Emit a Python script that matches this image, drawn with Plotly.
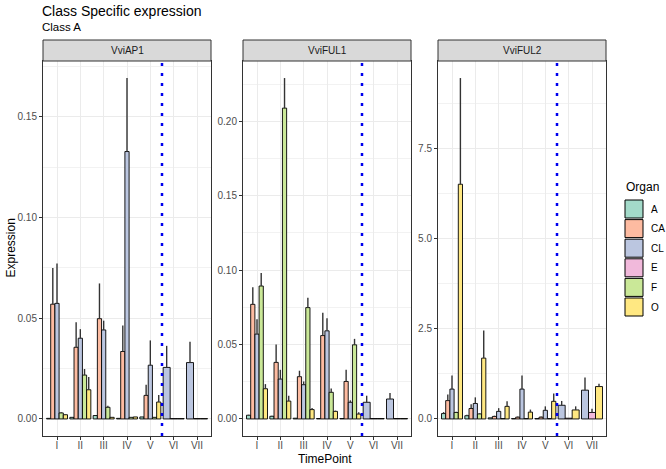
import plotly.graph_objects as go
from plotly.subplots import make_subplots

W, H = 666, 469

timepoints = ["I", "II", "III", "IV", "V", "VI", "VII"]
organs = ["A", "CA", "CL", "E", "F", "O"]
organ_colors = ["#A3DAC9", "#FDBBA1", "#BBC6E0", "#F1B9DB", "#CAE898", "#FFE882"]
genes = ["VviAP1", "VviFUL1", "VviFUL2"]

N = None
# rows follow organs order: A, CA, CL, E, F, O ; columns = timepoints
ap1_mean = [
    [0.0003, 0.0008, 0.0017, 0.0003, 0.0010, N, N],
    [0.0570, 0.0356, 0.0498, 0.0335, 0.0117, N, N],
    [0.0574, 0.0401, 0.0442, 0.1328, 0.0267, 0.0256, 0.0280],
    [N, N, N, N, N, 0.0002, 0.0002],
    [0.0030, 0.0218, 0.0058, 0.0008, 0.0008, N, N],
    [0.0021, 0.0145, 0.0008, 0.0010, 0.0084, 0.0002, 0.0002],
]
ap1_err = [
    [0, 0, 0, 0, 0, N, N],
    [0.0180, 0.0124, 0.0175, 0.0129, 0.0053, N, N],
    [0.0198, 0.0045, 0.0046, 0.0365, 0.0123, 0.0107, 0.0104],
    [N, N, N, N, N, 0, 0],
    [0.0003, 0.0030, 0.0008, 0, 0, N, N],
    [0.0002, 0.0063, 0, 0, 0.0035, 0, 0],
]

ful1_mean = [
    [0.0025, 0.0018, 0.0005, 0.0003, 0.0003, N, N],
    [0.0770, 0.0380, 0.0284, 0.0560, 0.0252, N, N],
    [0.0570, 0.0268, 0.0230, 0.0592, 0.0112, 0.0112, 0.0134],
    [N, N, N, N, N, 0.0003, 0.0003],
    [0.0893, 0.2088, 0.0748, 0.0179, 0.0498, N, N],
    [0.0203, 0.0120, 0.0063, 0.0051, 0.0033, 0.0003, 0.0003],
]
ful1_err = [
    [0.0003, 0.0003, 0, 0, 0, N, N],
    [0.0114, 0.0120, 0.0040, 0.0154, 0.0078, N, N],
    [0.0100, 0.0062, 0.0022, 0.0084, 0.0013, 0.0044, 0.0040],
    [N, N, N, N, N, 0, 0],
    [0.0087, 0.0202, 0.0067, 0.0026, 0.0040, N, N],
    [0.0031, 0.0036, 0.0011, 0.0005, 0.0012, 0, 0],
]

ful2_mean = [
    [0.15, 0.09, 0.03, 0.01, 0.01, N, N],
    [0.51, 0.29, 0.07, 0.05, 0.05, N, N],
    [0.83, 0.43, 0.21, 0.83, 0.24, 0.38, 0.80],
    [N, N, N, N, N, 0.02, 0.18],
    [0.18, 0.14, 0.01, 0.01, 0.01, N, N],
    [6.52, 1.69, 0.35, 0.19, 0.49, 0.25, 0.90],
]
ful2_err = [
    [0.04, 0.03, 0, 0, 0, N, N],
    [0.17, 0.12, 0.02, 0.02, 0.02, N, N],
    [0.38, 0.17, 0.09, 0.38, 0.11, 0.12, 0.35],
    [N, N, N, N, N, 0, 0.10],
    [0.02, 0.02, 0, 0, 0, N, N],
    [2.95, 0.77, 0.14, 0.07, 0.22, 0.10, 0.08],
]

tables = [(ap1_mean, ap1_err), (ful1_mean, ful1_err), (ful2_mean, ful2_err)]
y_dtick = [0.05, 0.05, 2.5]
y_fmt = [".2f", ".2f", ".1f"]

# panel geometry (pixels)
px_left = [43, 243, 438]
px_w = 168
px_top, px_bot, strip_h = 61, 436, 21


def px(x):
    return x / W


def py(y):
    return 1 - y / H


fig = make_subplots(rows=1, cols=3)

for g, (mean, err) in enumerate(tables):
    col = g + 1
    # dodge like ggplot: organs present at each timepoint share 0.9 width
    xs = [[None] * 7 for _ in organs]
    ws = [[None] * 7 for _ in organs]
    for t in range(7):
        present = [o for o in range(len(organs)) if mean[o][t] is not None]
        w = 0.9 / len(present)
        for k, o in enumerate(present):
            xs[o][t] = t + 1 - 0.45 + w * (k + 0.5)
            ws[o][t] = w
    top = 0
    for o, name in enumerate(organs):
        idx = [t for t in range(7) if mean[o][t] is not None]
        top = max([top] + [mean[o][t] + err[o][t] for t in idx])
        fig.add_trace(
            go.Bar(
                x=[xs[o][t] for t in idx],
                y=[mean[o][t] for t in idx],
                width=[ws[o][t] for t in idx],
                name=name,
                legendgroup=name,
                showlegend=False,
                marker=dict(color=organ_colors[o], line=dict(color="black", width=0.9)),
                error_y=dict(
                    type="data",
                    symmetric=False,
                    array=[err[o][t] for t in idx],
                    arrayminus=[0] * len(idx),
                    color="#333333",
                    thickness=1.4,
                    width=0,
                ),
            ),
            row=1,
            col=col,
        )

    fig.add_vline(
        x=5.5, line=dict(color="#0000EE", dash="3px,7px", width=2.5), row=1, col=col
    )

    x0 = px(px_left[g])
    x1 = px(px_left[g] + px_w)
    fig.update_xaxes(
        domain=[x0, x1],
        range=[0.4, 7.6],
        tickvals=list(range(1, 8)),
        ticktext=timepoints,
        row=1,
        col=col,
    )
    fig.update_yaxes(
        domain=[py(px_bot), py(px_top)],
        range=[-0.05 * top, 1.05 * top],
        dtick=y_dtick[g],
        tick0=0,
        tickformat=y_fmt[g],
        minor=dict(dtick=y_dtick[g] / 2, tick0=0, showgrid=True, gridcolor="#F2F2F2", gridwidth=0.6, ticks=""),
        row=1,
        col=col,
    )

    # facet strip
    fig.add_shape(
        type="rect", xref="paper", yref="paper",
        x0=x0, x1=x1, y0=py(px_top), y1=py(px_top - strip_h),
        fillcolor="#D9D9D9", line=dict(color="#333333", width=1),
    )
    fig.add_annotation(
        text=genes[g], xref="paper", yref="paper",
        x=(x0 + x1) / 2, y=py(px_top - strip_h / 2),
        xanchor="center", yanchor="middle",
        showarrow=False, font=dict(size=10, color="#1A1A1A"),
    )

fig.update_xaxes(
    showline=True, mirror=True, linecolor="#333333", linewidth=1,
    showgrid=True, gridcolor="#EBEBEB", gridwidth=1,
    ticks="outside", ticklen=3, tickcolor="#333333", ticklabelstandoff=-3,
    tickfont=dict(size=10, color="#4D4D4D"), zeroline=False,
)
fig.update_yaxes(
    showline=True, mirror=True, linecolor="#333333", linewidth=1,
    showgrid=True, gridcolor="#EBEBEB", gridwidth=1,
    ticks="outside", ticklen=3, tickcolor="#333333",
    tickfont=dict(size=10, color="#4D4D4D"), zeroline=False,
)

# titles
fig.add_annotation(text="Class Specific expression", xref="paper", yref="paper",
                   x=px(40), y=py(11), xanchor="left", yanchor="middle",
                   showarrow=False, font=dict(size=14, color="black"))
fig.add_annotation(text="Class A", xref="paper", yref="paper",
                   x=px(40), y=py(27), xanchor="left", yanchor="middle",
                   showarrow=False, font=dict(size=11.5, color="black"))
fig.add_annotation(text="TimePoint", xref="paper", yref="paper",
                   x=px((43 + 606) / 2), y=py(459), xanchor="center", yanchor="middle",
                   showarrow=False, font=dict(size=12, color="black"))
fig.add_annotation(text="Expression", xref="paper", yref="paper", textangle=-90,
                   x=px(10), y=py((px_top + px_bot) / 2), xanchor="center", yanchor="middle",
                   showarrow=False, font=dict(size=12, color="black"))

# legend drawn like ggplot keys
fig.add_annotation(text="Organ", xref="paper", yref="paper",
                   x=px(624), y=py(187), xanchor="left", yanchor="middle",
                   showarrow=False, font=dict(size=12, color="black"))
for o, name in enumerate(organs):
    ky = 200 + o * 19.6
    fig.add_shape(type="rect", xref="paper", yref="paper",
                  x0=px(625), x1=px(643), y0=py(ky + 18), y1=py(ky),
                  fillcolor=organ_colors[o], line=dict(color="black", width=1))
    fig.add_annotation(text=name, xref="paper", yref="paper",
                       x=px(649), y=py(ky + 9), xanchor="left", yanchor="middle",
                       showarrow=False, font=dict(size=10, color="black"))

fig.update_layout(
    width=W,
    height=H,
    margin=dict(l=0, r=0, t=0, b=0),
    barmode="overlay",
    showlegend=False,
    paper_bgcolor="white",
    plot_bgcolor="white",
    font=dict(family="Liberation Sans, Arial, sans-serif"),
)

fig.write_html(
    "out.html",
    config={"displayModeBar": False},
    post_script="document.body.style.margin='0';",
)
